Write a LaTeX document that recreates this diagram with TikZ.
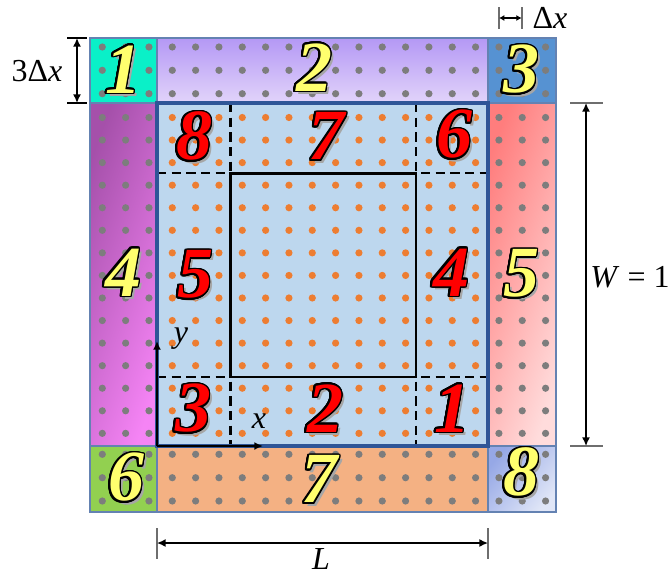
\documentclass[tikz,border=0pt]{standalone}
\usepackage{fontspec}
\setmainfont{LiberationSerif}[
  Extension      = .ttf,
  UprightFont    = *-Regular,
  BoldFont       = *-Bold,
  ItalicFont     = *-Italic,
  BoldItalicFont = *-BoldItalic]
\usepackage[copies]{contour}
\usepackage{tikz}
\usetikzlibrary{arrows.meta, positioning}

\contourlength{1.2pt}
\contournumber{24}

\definecolor{mainfill}{RGB}{189,215,238}
\definecolor{mainedge}{RGB}{47,85,151}
\definecolor{ghostedge}{RGB}{100,130,178}
\definecolor{dotgray}{RGB}{125,125,125}
\definecolor{dotorange}{RGB}{237,125,49}
\definecolor{numred}{RGB}{255,0,0}
\definecolor{numyellow}{RGB}{255,255,110}
\definecolor{tickgray}{RGB}{110,110,110}

%% outlined number with a soft shadow
\newcommand{\regionno}[2]{%
  \rlap{\hspace{2.4pt}\raisebox{-2.4pt}{\textcolor{black!35}{#2}}}%
  \textcolor{#1}{\contour{black}{#2}}}

\begin{document}
\begin{tikzpicture}[x=0.75pt, y=-0.75pt, >={Latex[length=6.5pt,width=6pt]},
  ghost/.style = {draw=ghostedge, line width=1.2pt},
  num/.style   = {inner sep=0pt, font=\fontsize{54}{54}\selectfont\bfseries\itshape},
  dim/.style   = {inner sep=1pt, font=\fontsize{24}{28}\selectfont},
  tickln/.style= {draw=tickgray, line width=1.2pt},
  arr/.style   = {<->, line width=1.1pt},
  cut/.style   = {dashed, dash pattern=on 7pt off 4pt, line width=1.6pt}
]
  \useasboundingbox (0,0) rectangle (670,575);

  %% ghost regions
  \path[ghost, fill={rgb,255:red,10;green,240;blue,200}] (90,38) rectangle (157,103);
  \path[ghost, top color={rgb,255:red,180;green,152;blue,245},
        bottom color={rgb,255:red,226;green,212;blue,250}] (157,38) rectangle (488,103);
  \path[ghost, fill={rgb,255:red,86;green,146;blue,210}] (488,38) rectangle (556,103);
  \path[ghost, left color={rgb,255:red,165;green,80;blue,170},
        right color={rgb,255:red,245;green,132;blue,245}, shading angle=70]
        (90,103) rectangle (157,446);
  \path[ghost, left color={rgb,255:red,255;green,125;blue,125},
        right color={rgb,255:red,255;green,220;blue,220}, shading angle=70]
        (488,103) rectangle (556,446);
  \path[ghost, fill={rgb,255:red,146;green,208;blue,80}] (90,446) rectangle (157,512);
  \path[ghost, fill={rgb,255:red,244;green,177;blue,131}] (157,446) rectangle (488,512);
  \path[ghost, left color={rgb,255:red,150;green,168;blue,230},
        right color={rgb,255:red,224;green,230;blue,247}, shading angle=50]
        (488,446) rectangle (556,512);

  %% physical domain
  \fill[mainfill] (157,103) rectangle (488,446);

  %% grid points
  \foreach \k in {0,...,19}
    \foreach \r in {47,70.3,93.7,454.3,477.7,501}
      \fill[dotgray] (102.3+23.33*\k,\r) circle (2.7pt);
  \foreach \k in {0,1,2,17,18,19}
    \foreach \j in {0,...,14}
      \fill[dotgray] (102.3+23.33*\k,117.5+22.56*\j) circle (2.7pt);
  \foreach \k in {3,...,16}
    \foreach \j in {0,...,14}
      \fill[dotorange] (102.3+23.33*\k,117.5+22.56*\j) circle (2.7pt);

  %% sub-blocks
  \coordinate (a1) at (230.5,173.3);
  \coordinate (a2) at (416,377);
  \draw[cut] (230.5,103) -- (230.5,446);
  \draw[cut] (416,103) -- (416,446);
  \draw[cut] (157,173.3) -- (488,173.3);
  \draw[cut] (157,377) -- (488,377);
  \draw[line width=2.2pt] (a1) rectangle (a2);
  \draw[draw=mainedge, line width=3pt] (157,103) rectangle (488,446);

  %% axes
  \coordinate (O)  at (157,446);
  \coordinate (xe) at (263,446);
  \coordinate (ye) at (157,341);
  \draw[->, line width=2pt] (O) -- (xe);
  \draw[->, line width=2pt] (O) -- (ye);
  \node[dim] (xl) at (259,421) {\textit{x}};
  \node[dim] (yl) at (181,339) {\textit{y}};

  %% ghost numbers
  \node[num] (gn1) at (123,71)  {\regionno{numyellow}{1}};
  \node[num] (gn2) at (314,69)  {\regionno{numyellow}{2}};
  \node[num] (gn3) at (521,71)  {\regionno{numyellow}{3}};
  \node[num] (gn4) at (123,274) {\regionno{numyellow}{4}};
  \node[num] (gn5) at (521,275) {\regionno{numyellow}{5}};
  \node[num] (gn6) at (126,479) {\regionno{numyellow}{6}};
  \node[num] (gn7) at (319,481) {\regionno{numyellow}{7}};
  \node[num] (gn8) at (521,474) {\regionno{numyellow}{8}};

  %% interior numbers
  \node[num] (in1) at (452,410) {\regionno{numred}{1}};
  \node[num] (in2) at (325,410) {\regionno{numred}{2}};
  \node[num] (in3) at (193,410) {\regionno{numred}{3}};
  \node[num] (in4) at (451,274) {\regionno{numred}{4}};
  \node[num] (in5) at (195,276) {\regionno{numred}{5}};
  \node[num] (in6) at (454,136) {\regionno{numred}{6}};
  \node[num] (in7) at (326,138) {\regionno{numred}{7}};
  \node[num] (in8) at (194,138) {\regionno{numred}{8}};

  %% 3 dx
  \coordinate (h1) at (77,38);
  \coordinate (h2) at (77,103);
  \draw[line width=1.2pt] (67,38) -- (87,38) (67,103) -- (87,103);
  \draw[arr] (h1) -- (h2);
  \node[dim] (hl) at (37,71) {3Δ\textit{x}};

  %% dx
  \coordinate (d1) at (499,18);
  \coordinate (d2) at (521.7,18);
  \draw[tickln] (499,7) -- (499,29) (521.7,7) -- (521.7,29);
  \draw[<->, line width=1pt, >={Latex[length=4pt,width=4.5pt]}] (d1) -- (d2);
  \node[dim] (dl) at (550,18) {Δ\textit{x}};

  %% W
  \coordinate (w1) at (586,103);
  \coordinate (w2) at (586,446);
  \draw[tickln] (570,103) -- (603,103) (570,446) -- (603,446);
  \draw[arr] (w1) -- (w2);
  \node[dim] (wl) at (630,277) {\textit{W} = 1};

  %% L
  \coordinate (l1) at (157,543);
  \coordinate (l2) at (488,543);
  \draw[tickln] (157,528) -- (157,559) (488,528) -- (488,559);
  \draw[arr] (l1) -- (l2);
  \node[dim] (ll) at (321,559) {\textit{L}};
\end{tikzpicture}
\end{document}
